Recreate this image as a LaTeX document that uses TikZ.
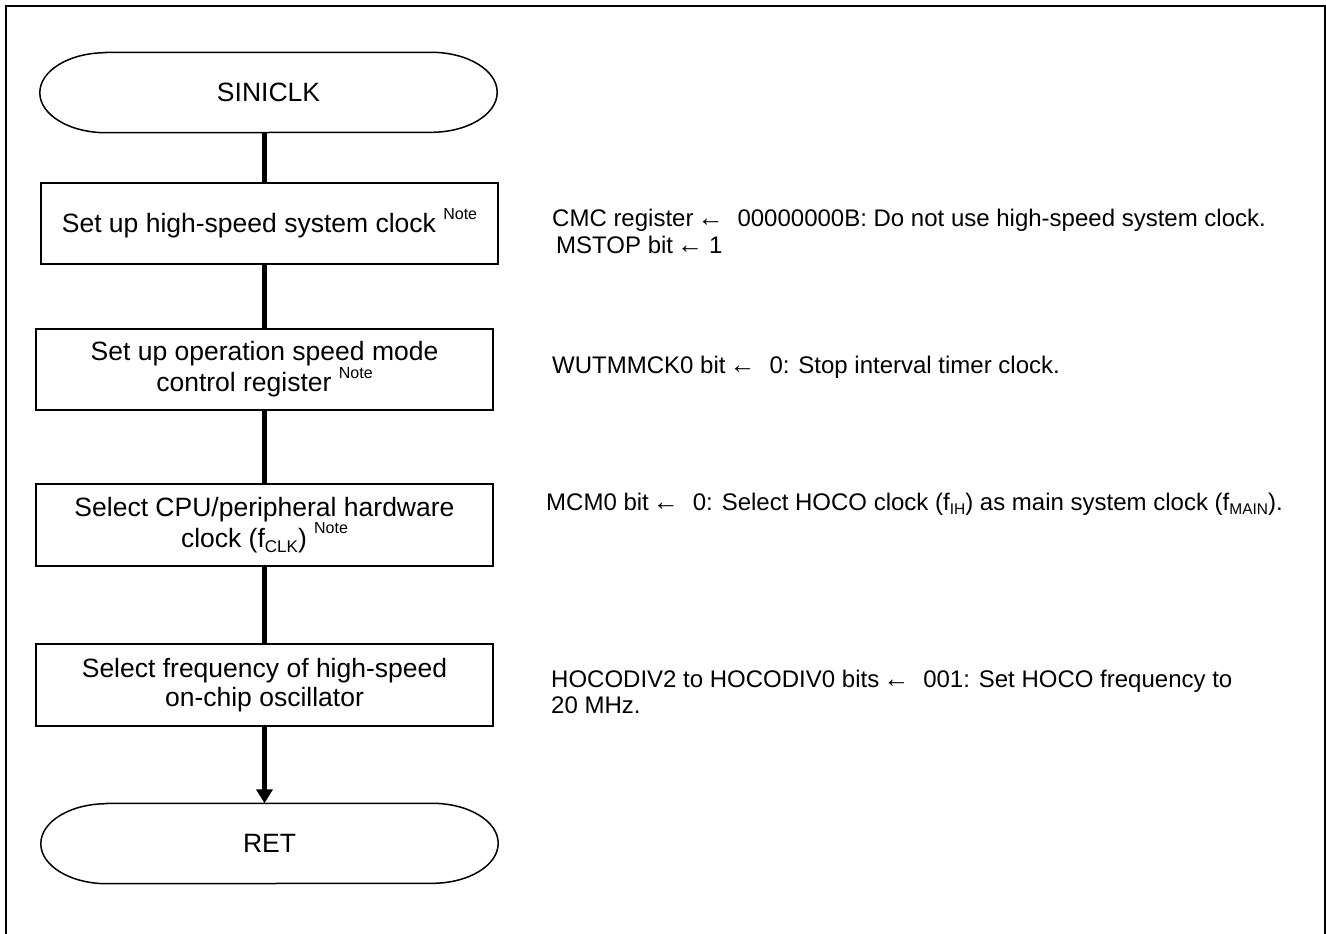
\documentclass[tikz,border=0pt]{standalone}
\usepackage{fontspec}
\setmainfont{Liberation Sans}
\usetikzlibrary{arrows.meta}
\newcommand{\nt}{ \raisebox{0.5em}{\fontsize{16}{16}\selectfont Note}}
\newcommand{\bsub}[1]{\raisebox{-5pt}{\fontsize{17}{17}\selectfont #1}}
\newcommand{\csub}[1]{\raisebox{-4.5pt}{\fontsize{15.5}{15.5}\selectfont #1}}
\newcommand{\arw}{{\fontsize{26}{26}\selectfont ←}}
\newcommand{\larr}{\,\arw\hspace{14pt}}
\begin{document}
\begin{tikzpicture}[x=1pt,y=-1pt,
  boxtext/.style={font=\fontsize{26.5}{29}\selectfont},
  cmt/.style={font=\fontsize{24}{27}\selectfont, anchor=base west, inner sep=0pt},
  procbox/.style={boxtext, draw, line width=1.5pt, rectangle, minimum width=457pt, minimum height=81pt, inner sep=0pt, align=center},
  termnode/.style={boxtext, rectangle, minimum width=457pt, minimum height=80pt, inner sep=0pt},
  termline/.style={line width=1.5pt},
  flow/.style={line width=4.5pt},
  frame/.style={line width=2pt}]
\useasboundingbox (0,0) rectangle (1326,934);
\draw[frame] (6,6) rectangle (1325,960);

\coordinate (axis) at (264.5,0);

\node[termnode] (start) at (268.5,92.5) {SINICLK};
\node[procbox] (b1) at (269.5,223.5) {Set up high-speed system clock\nt};
\node[procbox] (b2) at (264.5,369.5) {Set up operation speed mode\\control register\nt};
\node[procbox, minimum height=82pt] (b3) at (264.5,525) {Select CPU/peripheral hardware\\clock (f\bsub{CLK})\nt};
\node[procbox, minimum height=82pt] (b4) at (264.5,685) {Select frequency of high-speed\\on-chip oscillator};
\node[termnode] (ret) at (269.5,843.5) {RET};

\foreach \n in {start,ret}{
  \draw[termline] ([xshift=66pt]\n.north west) -- ([xshift=-66pt]\n.north east)
    arc[start angle=90, end angle=-90, x radius=66pt, y radius=40pt]
    -- ([xshift=66pt]\n.south west)
    arc[start angle=270, end angle=90, x radius=66pt, y radius=40pt] -- cycle;
}

\draw[flow] (start.south -| axis) -- (b1.north -| axis);
\draw[flow] (b1.south -| axis) -- (b2.north -| axis);
\draw[flow] (b2.south -| axis) -- (b3.north -| axis);
\draw[flow] (b3.south -| axis) -- (b4.north -| axis);
\draw[flow, -{Triangle[length=14pt,width=16pt]}] (b4.south -| axis) -- (ret.north -| axis);

\node[cmt] (c1a) at (552,226) {CMC register\larr 00000000B: Do not use high-speed system clock.};
\node[cmt] (c1b) at (556,253) {MSTOP bit\,\arw\hspace{6pt}1};
\node[cmt] (c2) at (552,373) {WUTMMCK0 bit\larr 0: Stop interval timer clock.};
\node[cmt] (c3) at (546,510) {MCM0 bit\larr 0: Select HOCO clock (f\csub{IH}) as main system clock (f\csub{MAIN}).};
\node[cmt] (c4a) at (551,687) {HOCODIV2 to HOCODIV0 bits\larr 001: Set HOCO frequency to};
\node[cmt] (c4b) at (551,713) {20 MHz.};
\end{tikzpicture}
\end{document}
